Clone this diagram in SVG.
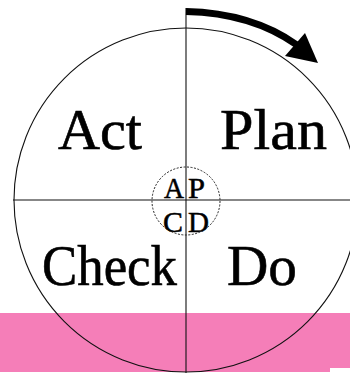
<svg xmlns="http://www.w3.org/2000/svg" width="350" height="375" viewBox="0 0 350 375">
<style>
.big{font-family:"Liberation Serif","Times New Roman",serif;font-size:56px;fill:#000;stroke:#000;stroke-width:0.6}
.small{font-family:"Liberation Serif","Times New Roman",serif;font-size:30px;fill:#000;stroke:#000;stroke-width:0.5}
.ln{stroke:#111;stroke-width:1.1;fill:none}
</style>
<rect width="350" height="375" fill="#fff"/>
<path d="M0,313 H350 V368 H330 V372 H0 Z" fill="#F57EB8"/>
<g id="outer-circle"><circle cx="186" cy="200" r="172" class="ln"/></g>
<g id="connectors">
<line x1="186" y1="8" x2="186" y2="373" class="ln"/>
<line x1="13" y1="200" x2="350" y2="200" class="ln"/>
<path d="M186,11.5 Q252,13 297,45" fill="none" stroke="#000" stroke-width="7"/>
<polygon points="305,33 318,63 285,56" fill="#000"/>
</g>
<g id="act"><text class="big" x="58" y="149" textLength="84" lengthAdjust="spacingAndGlyphs">Act</text></g>
<g id="plan"><text class="big" x="220" y="149" textLength="107" lengthAdjust="spacingAndGlyphs">Plan</text></g>
<g id="check"><text class="big" x="42" y="285" textLength="135" lengthAdjust="spacingAndGlyphs">Check</text></g>
<g id="do"><text class="big" x="227" y="285" textLength="70" lengthAdjust="spacingAndGlyphs">Do</text></g>
<g id="center">
<circle cx="186" cy="201" r="34" fill="none" stroke="#222" stroke-width="1" stroke-dasharray="2,1.5"/>
<text class="small" x="164" y="198" textLength="20" lengthAdjust="spacingAndGlyphs">A</text>
<text class="small" x="188" y="198" textLength="17" lengthAdjust="spacingAndGlyphs">P</text>
<text class="small" x="163" y="232" textLength="20" lengthAdjust="spacingAndGlyphs">C</text>
<text class="small" x="188" y="232" textLength="21" lengthAdjust="spacingAndGlyphs">D</text>
</g>
</svg>
